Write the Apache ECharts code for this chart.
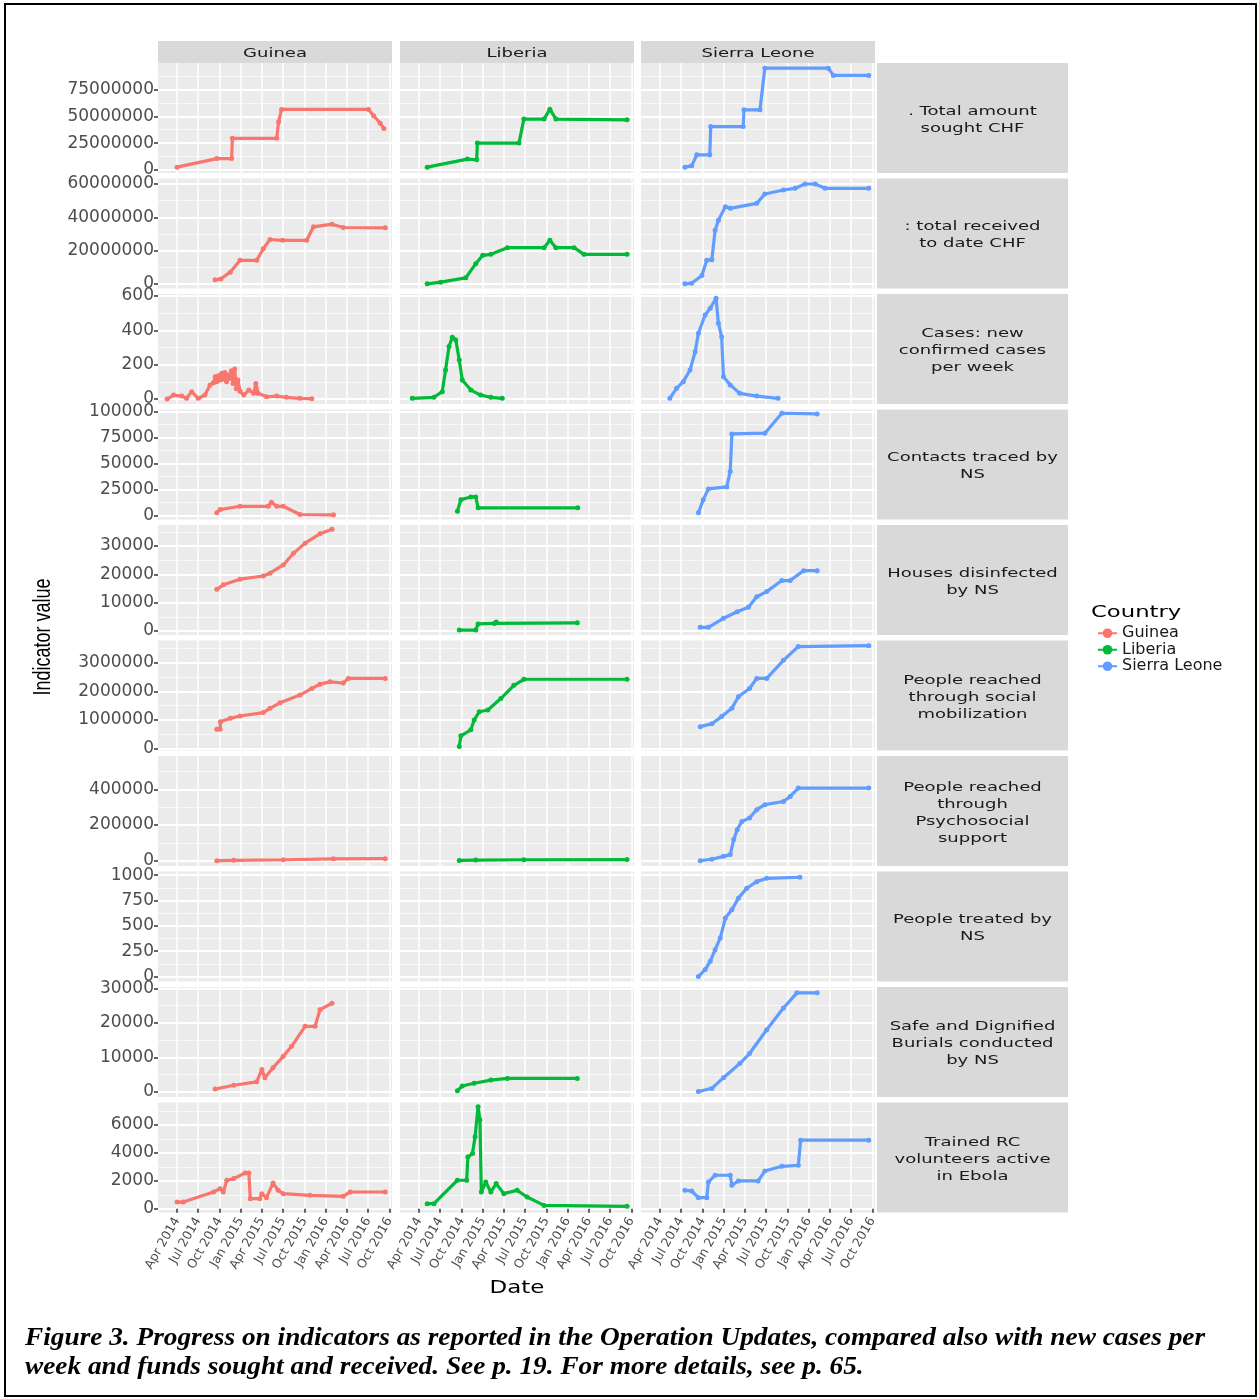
<!DOCTYPE html>
<html>
<head>
<meta charset="utf-8">
<script src="https://cdn.jsdelivr.net/npm/echarts@6/dist/echarts.min.js"></script>
<style>
  html, body { margin: 0; padding: 0; background: #fff; }
  #chart { width: 1259px; height: 1399px; }
</style>
</head>
<body>
<div id="chart"></div>
<script>
const countries = ['Guinea', 'Liberia', 'Sierra Leone'];
const countryColors = ['#F8766D', '#00BA38', '#619CFF'];

const indicators = [
  '. Total amount\nsought CHF',
  ': total received\nto date CHF',
  'Cases: new\nconfirmed cases\nper week',
  'Contacts traced by\nNS',
  'Houses disinfected\nby NS',
  'People reached\nthrough social\nmobilization',
  'People reached\nthrough\nPsychosocial\nsupport',
  'People treated by\nNS',
  'Safe and Dignified\nBurials conducted\nby NS',
  'Trained RC\nvolunteers active\nin Ebola'
];

const xTickDates = ['2014-04-01', '2014-07-01', '2014-10-01', '2015-01-01', '2015-04-01', '2015-07-01',
  '2015-10-01', '2016-01-01', '2016-04-01', '2016-07-01', '2016-10-01'];
const monthNames = ['Jan', 'Feb', 'Mar', 'Apr', 'May', 'Jun', 'Jul', 'Aug', 'Sep', 'Oct', 'Nov', 'Dec'];
const xMin = '2014-01-09';
const xMax = '2016-10-12';

const yMins = [-3000000, -2700000, -29, -3800, -1400, -60000, -30000, -49, -1500, -270];
const yMaxs = [100000000, 63300000, 611, 102000, 37400, 3770000, 587000, 1037, 30400, 7610];
const yTicks = [
  [0, 25000000, 50000000, 75000000],
  [0, 20000000, 40000000, 60000000],
  [0, 200, 400, 600],
  [0, 25000, 50000, 75000, 100000],
  [0, 10000, 20000, 30000],
  [0, 1000000, 2000000, 3000000],
  [0, 200000, 400000],
  [0, 250, 500, 750, 1000],
  [0, 10000, 20000, 30000],
  [0, 2000, 4000, 6000]
];
const yMinorTicks = [
  [12500000, 37500000, 62500000, 87500000],
  [10000000, 30000000, 50000000],
  [100, 300, 500],
  [12500, 37500, 62500, 87500],
  [5000, 15000, 25000, 35000],
  [500000, 1500000, 2500000, 3500000],
  [100000, 300000, 500000],
  [125, 375, 625, 875],
  [5000, 15000, 25000],
  [1000, 3000, 5000, 7000]
];

// Funds sought
const soughtGuinea = [['2014-04-01', 2500000], ['2014-09-19', 10500000], ['2014-11-22', 10500000],
  ['2014-11-25', 29500000], ['2015-06-04', 29500000], ['2015-06-12', 45000000], ['2015-06-25', 56500000],
  ['2016-07-03', 56500000], ['2016-07-25', 50600000], ['2016-08-22', 43700000], ['2016-09-07', 38700000]];
const soughtLiberia = [['2014-05-06', 2500000], ['2014-10-26', 10000000], ['2014-12-05', 9400000],
  ['2014-12-08', 25000000], ['2015-06-05', 25000000], ['2015-06-26', 47500000], ['2015-09-21', 47500000],
  ['2015-10-16', 56800000], ['2015-11-11', 47500000], ['2016-09-12', 46800000]];
const soughtSierra = [['2014-07-17', 2500000], ['2014-08-15', 3700000], ['2014-09-06', 14000000],
  ['2014-11-01', 14000000], ['2014-11-05', 40500000], ['2015-03-25', 40500000], ['2015-03-28', 56200000],
  ['2015-06-05', 56200000], ['2015-06-26', 95200000], ['2016-03-25', 95200000], ['2016-04-16', 88400000],
  ['2016-09-15', 88400000]];

// Funds received
const receivedGuinea = [['2014-09-12', 2500000], ['2014-10-06', 3000000], ['2014-11-16', 7100000],
  ['2014-12-28', 14200000], ['2015-03-10', 14200000], ['2015-04-07', 21200000], ['2015-05-06', 26700000],
  ['2015-06-29', 26200000], ['2015-10-11', 26200000], ['2015-11-09', 34300000], ['2016-01-28', 35900000],
  ['2016-03-16', 33900000], ['2016-09-13', 33700000]];
const receivedLiberia = [['2014-05-06', 100000], ['2014-07-03', 1100000], ['2014-10-19', 3700000],
  ['2014-12-01', 12200000], ['2014-12-31', 17200000], ['2015-02-04', 17800000], ['2015-04-16', 21800000],
  ['2015-09-21', 21800000], ['2015-10-16', 26200000], ['2015-11-11', 21800000], ['2016-01-28', 21800000],
  ['2016-03-11', 17800000], ['2016-09-12', 17800000]];
const receivedSierra = [['2014-07-17', 100000], ['2014-08-15', 500000], ['2014-09-28', 5100000],
  ['2014-10-19', 14200000], ['2014-11-10', 14600000], ['2014-11-24', 32300000], ['2014-12-08', 38300000],
  ['2015-01-07', 46300000], ['2015-01-28', 45400000], ['2015-05-22', 48400000], ['2015-06-26', 54000000],
  ['2015-09-14', 56400000], ['2015-11-03', 57400000], ['2015-12-16', 60000000], ['2016-01-28', 60000000],
  ['2016-03-11', 57400000], ['2016-09-15', 57400000]];

// New confirmed cases per week
const casesGuinea = [['2014-02-17', 0], ['2014-03-17', 23], ['2014-04-21', 17], ['2014-05-12', 4],
  ['2014-06-03', 43], ['2014-07-01', 4], ['2014-07-30', 23], ['2014-08-21', 82], ['2014-09-05', 95],
  ['2014-09-12', 130], ['2014-09-19', 100], ['2014-09-26', 135], ['2014-10-03', 110], ['2014-10-10', 150],
  ['2014-10-17', 115], ['2014-10-24', 155], ['2014-10-31', 100], ['2014-11-07', 140], ['2014-11-14', 120],
  ['2014-11-21', 165], ['2014-11-28', 90], ['2014-12-05', 175], ['2014-12-12', 60], ['2014-12-19', 110],
  ['2014-12-28', 45], ['2015-01-13', 23], ['2015-02-04', 52], ['2015-02-25', 33], ['2015-03-06', 91],
  ['2015-03-16', 33], ['2015-04-21', 13], ['2015-06-04', 17], ['2015-07-16', 10], ['2015-09-12', 4],
  ['2015-11-02', 2]];
const casesLiberia = [['2014-03-03', 4], ['2014-06-04', 10], ['2014-07-10', 43], ['2014-07-24', 169],
  ['2014-08-08', 305], ['2014-08-22', 359], ['2014-09-06', 344], ['2014-09-21', 227], ['2014-10-04', 111],
  ['2014-11-10', 52], ['2014-12-22', 23], ['2015-02-04', 10], ['2015-03-25', 4]];
const casesSierra = [['2014-05-13', 4], ['2014-06-11', 62], ['2014-07-10', 101], ['2014-08-08', 169],
  ['2014-08-30', 275], ['2014-09-13', 383], ['2014-10-12', 489], ['2014-11-03', 528], ['2014-11-28', 586],
  ['2014-12-08', 441], ['2014-12-22', 363], ['2014-12-30', 130], ['2015-01-28', 82], ['2015-03-10', 33],
  ['2015-05-22', 17], ['2015-08-22', 4]];

// Contacts traced
const contactsGuinea = [['2014-09-19', 2600], ['2014-10-03', 5700], ['2014-12-28', 8900], ['2015-04-28', 8900],
  ['2015-05-12', 12700], ['2015-06-04', 8900], ['2015-07-02', 8900], ['2015-09-12', 1000], ['2016-02-03', 700]];
const contactsLiberia = [['2014-09-13', 4100], ['2014-09-28', 15300], ['2014-11-10', 17900], ['2014-12-01', 17900],
  ['2014-12-11', 7400], ['2016-02-13', 7400]];
const contactsSierra = [['2014-09-13', 2600], ['2014-10-04', 15300], ['2014-10-26', 25600], ['2015-01-13', 27500],
  ['2015-01-28', 42400], ['2015-02-04', 78500], ['2015-06-26', 79200], ['2015-09-07', 98400], ['2016-02-06', 97700]];

// Houses disinfected
const housesGuinea = [['2014-09-19', 14700], ['2014-10-17', 16300], ['2014-12-28', 18300], ['2015-04-07', 19400],
  ['2015-05-06', 20400], ['2015-07-02', 23300], ['2015-08-15', 27400], ['2015-10-04', 31000],
  ['2015-12-07', 34300], ['2016-01-28', 35900]];
const housesLiberia = [['2014-09-21', 350], ['2014-12-01', 350], ['2014-12-11', 2500], ['2015-02-19', 2700],
  ['2015-02-27', 3200], ['2016-02-11', 2900]];
const housesSierra = [['2014-09-21', 1300], ['2014-10-26', 1300], ['2014-12-30', 4500], ['2015-02-27', 6800],
  ['2015-04-16', 8400], ['2015-05-22', 12100], ['2015-07-04', 13900], ['2015-09-07', 17800],
  ['2015-10-13', 17800], ['2015-12-10', 21300], ['2016-02-06', 21300]];

// Social mobilization
const socialGuinea = [['2014-09-19', 680000], ['2014-10-03', 680000], ['2014-10-05', 940000],
  ['2014-11-16', 1060000], ['2014-12-28', 1140000], ['2015-04-07', 1260000], ['2015-05-06', 1410000],
  ['2015-06-18', 1600000], ['2015-09-12', 1870000], ['2015-11-02', 2100000], ['2015-12-07', 2250000],
  ['2016-01-19', 2330000], ['2016-03-16', 2290000], ['2016-04-07', 2450000], ['2016-09-13', 2450000]];
const socialLiberia = [['2014-09-21', 80000], ['2014-09-28', 450000], ['2014-11-10', 660000],
  ['2014-11-24', 1000000], ['2014-12-16', 1290000], ['2015-01-22', 1350000], ['2015-03-19', 1750000],
  ['2015-05-14', 2210000], ['2015-06-26', 2420000], ['2016-09-12', 2420000]];
const socialSierra = [['2014-09-21', 770000], ['2014-11-10', 870000], ['2014-12-22', 1120000],
  ['2015-02-04', 1410000], ['2015-03-04', 1810000], ['2015-04-21', 2100000], ['2015-05-22', 2450000],
  ['2015-07-04', 2450000], ['2015-09-14', 3080000], ['2015-11-17', 3560000], ['2016-09-15', 3590000]];

// Psychosocial support
const psychoGuinea = [['2014-09-19', 0], ['2014-12-01', 2000], ['2015-07-02', 5000], ['2016-02-03', 10000],
  ['2016-09-13', 11000]];
const psychoLiberia = [['2014-09-21', 1000], ['2014-12-01', 3000], ['2015-06-26', 5000], ['2016-09-12', 6000]];
const psychoSierra = [['2014-09-21', 0], ['2014-11-10', 8000], ['2014-12-30', 24000], ['2015-01-28', 34000],
  ['2015-02-12', 118000], ['2015-02-27', 174000], ['2015-03-19', 220000], ['2015-04-21', 239000],
  ['2015-05-22', 286000], ['2015-06-26', 314000], ['2015-09-14', 332000], ['2015-10-13', 360000],
  ['2015-11-17', 407000], ['2016-09-15', 407000]];

// People treated
const treatedGuinea = [];
const treatedLiberia = [];
const treatedSierra = [['2014-09-13', 0], ['2014-10-12', 69], ['2014-11-03', 150], ['2014-11-24', 265],
  ['2014-12-16', 380], ['2015-01-07', 577], ['2015-02-04', 659], ['2015-03-04', 774], ['2015-04-09', 872],
  ['2015-05-22', 937], ['2015-07-04', 970], ['2015-11-24', 980]];

// Safe and dignified burials
const burialsGuinea = [['2014-09-12', 800], ['2014-12-01', 1900], ['2015-03-10', 2900], ['2015-04-01', 6500],
  ['2015-04-14', 4100], ['2015-05-19', 7000], ['2015-07-02', 10300], ['2015-08-07', 13200],
  ['2015-10-04', 19000], ['2015-11-16', 19000], ['2015-12-07', 23800], ['2016-01-28', 25700]];
const burialsLiberia = [['2014-09-13', 300], ['2014-10-04', 1700], ['2014-11-24', 2500], ['2015-02-04', 3400],
  ['2015-04-16', 3900], ['2016-02-11', 3900]];
const burialsSierra = [['2014-09-13', 100], ['2014-11-10', 1000], ['2014-12-30', 4100], ['2015-03-10', 8200],
  ['2015-04-21', 11100], ['2015-07-04', 18000], ['2015-09-14', 24300], ['2015-11-11', 28700],
  ['2016-02-06', 28700]];

// Trained volunteers
const volunteersGuinea = [['2014-04-01', 480], ['2014-04-28', 480], ['2014-09-05', 1200], ['2014-10-03', 1440],
  ['2014-10-17', 1200], ['2014-11-01', 2040], ['2014-12-01', 2160], ['2015-01-19', 2560], ['2015-02-04', 2560],
  ['2015-02-10', 720], ['2015-03-23', 720], ['2015-04-01', 1080], ['2015-04-21', 790], ['2015-05-19', 1840],
  ['2015-06-10', 1320], ['2015-07-02', 1080], ['2015-10-25', 960], ['2016-03-16', 890], ['2016-04-15', 1200],
  ['2016-09-13', 1200]];
const volunteersLiberia = [['2014-05-06', 360], ['2014-06-04', 360], ['2014-09-13', 2040], ['2014-10-23', 2040],
  ['2014-10-28', 3710], ['2014-11-17', 3960], ['2014-11-28', 5150], ['2014-12-11', 7310], ['2014-12-19', 6350],
  ['2014-12-25', 1200], ['2015-01-13', 1910], ['2015-02-04', 1200], ['2015-02-27', 1800], ['2015-04-01', 1080],
  ['2015-05-28', 1320], ['2015-07-10', 840], ['2015-09-21', 240], ['2016-09-12', 170]];
const volunteersSierra = [['2014-07-17', 1320], ['2014-08-15', 1270], ['2014-09-13', 790], ['2014-10-19', 790],
  ['2014-10-26', 1910], ['2014-11-24', 2400], ['2015-01-28', 2400], ['2015-02-04', 1680], ['2015-03-04', 1990],
  ['2015-05-28', 1990], ['2015-06-26', 2700], ['2015-09-07', 3040], ['2015-11-17', 3110], ['2015-11-27', 4910],
  ['2016-09-15', 4910]];

const panelData = [
  [soughtGuinea, soughtLiberia, soughtSierra],
  [receivedGuinea, receivedLiberia, receivedSierra],
  [casesGuinea, casesLiberia, casesSierra],
  [contactsGuinea, contactsLiberia, contactsSierra],
  [housesGuinea, housesLiberia, housesSierra],
  [socialGuinea, socialLiberia, socialSierra],
  [psychoGuinea, psychoLiberia, psychoSierra],
  [treatedGuinea, treatedLiberia, treatedSierra],
  [burialsGuinea, burialsLiberia, burialsSierra],
  [volunteersGuinea, volunteersLiberia, volunteersSierra]
];

// layout
const colLeft = [158, 400, 641];
const colWidth = 234;
const rowTop0 = 63;
const rowStep = 115.5;
const rowHeight = 110;
const stripLeft = 877;
const stripWidth = 191;

// dates are handled as UTC milliseconds on a value axis
const toTime = (d) => Date.parse(d + 'T00:00:00Z');
const xTickTimes = xTickDates.map(toTime);

const grids = [];
const xAxes = [];
const yAxes = [];
const series = [];
const graphics = [];

indicators.forEach((label, r) => {
  const top = rowTop0 + r * rowStep;
  countries.forEach((country, c) => {
    const i = r * 3 + c;
    grids.push({
      left: colLeft[c], top, width: colWidth, height: rowHeight,
      show: true, backgroundColor: '#ebebeb', borderWidth: 0,
      containLabel: false, outerBoundsMode: 'none'
    });
    const isBottom = r === indicators.length - 1;
    xAxes.push({
      type: 'value', gridIndex: i, min: toTime(xMin), max: toTime(xMax),
      axisLine: { show: false },
      axisTick: { show: isBottom, customValues: xTickTimes, length: 4, lineStyle: { color: '#333', width: 1.5 } },
      axisLabel: {
        show: isBottom, customValues: xTickTimes, rotate: 60, margin: 6,
        fontSize: 12.5, fontFamily: 'DejaVu Sans', color: '#4d4d4d',
        formatter(value) {
          const d = new Date(value);
          return monthNames[d.getUTCMonth()] + ' ' + d.getUTCFullYear();
        }
      },
      splitLine: { show: true, lineStyle: { color: '#ffffff', width: 1.5 } }
    });
    const isLeft = c === 0;
    yAxes.push({
      type: 'value', gridIndex: i, min: yMins[r], max: yMaxs[r],
      axisLine: { show: false },
      axisTick: { show: isLeft, customValues: yTicks[r], length: 4, lineStyle: { color: '#333', width: 1.5 } },
      axisLabel: {
        show: isLeft, customValues: yTicks[r], margin: 4,
        fontSize: 17, fontFamily: 'DejaVu Sans', color: '#4d4d4d',
        formatter: (v) => String(v)
      },
      splitLine: { show: true, lineStyle: { color: '#ffffff', width: 2 } }
    });
    yAxes.push({
      type: 'value', gridIndex: i, min: yMins[r], max: yMaxs[r], position: 'left',
      axisLine: { show: false },
      axisTick: { show: false, customValues: yMinorTicks[r] },
      axisLabel: { show: false, customValues: yMinorTicks[r] },
      splitLine: { show: true, lineStyle: { color: '#f8f8f8', width: 1 } }
    });
    const data = panelData[r][c];
    if (data.length) {
      series.push({
        type: 'line', name: country, xAxisIndex: i, yAxisIndex: i * 2,
        data: data.map((p) => [toTime(p[0]), p[1]]),
        color: countryColors[c],
        lineStyle: { width: 3.2 },
        symbol: 'circle', symbolSize: 5, showSymbol: true,
        z: 3
      });
    }
  });

  // right-hand facet strip
  graphics.push({
    type: 'rect', shape: { x: stripLeft, y: top, width: stripWidth, height: rowHeight },
    style: { fill: '#d9d9d9' }, silent: true
  });
  graphics.push({
    type: 'text', x: stripLeft + stripWidth / 2, y: top + rowHeight / 2 + 2, scaleX: 1.5,
    style: {
      text: label, x: 0, y: 0, fill: '#1a1a1a', font: '12px "DejaVu Sans"',
      textAlign: 'center', textVerticalAlign: 'middle', lineHeight: 17
    }, silent: true
  });
});

// top facet strips
countries.forEach((country, c) => {
  graphics.push({
    type: 'rect', shape: { x: colLeft[c], y: 41, width: colWidth, height: 22 },
    style: { fill: '#d9d9d9' }, silent: true
  });
  graphics.push({
    type: 'text', x: colLeft[c] + colWidth / 2, y: 53.5, scaleX: 1.5,
    style: {
      text: country, x: 0, y: 0, fill: '#1a1a1a', font: '12px "DejaVu Sans"',
      textAlign: 'center', textVerticalAlign: 'middle'
    }, silent: true
  });
});

// axis titles, legend title, caption, frame
graphics.push({
  type: 'text', x: 43, y: 637, rotation: Math.PI / 2, scaleY: 1.36,
  style: {
    text: 'Indicator value', x: 0, y: 0, fill: '#000', font: '18px "Liberation Sans"',
    textAlign: 'center', textVerticalAlign: 'middle'
  }, silent: true
});
graphics.push({
  type: 'text', x: 517, y: 1288.5, scaleX: 1.35,
  style: {
    text: 'Date', x: 0, y: 0, fill: '#000', font: '17px "DejaVu Sans"',
    textAlign: 'center', textVerticalAlign: 'middle'
  }, silent: true
});
graphics.push({
  type: 'text', x: 1091, y: 613, scaleX: 1.42,
  style: {
    text: 'Country', x: 0, y: 0, fill: '#000', font: '16px "DejaVu Sans"',
    textAlign: 'left', textVerticalAlign: 'middle'
  }, silent: true
});
graphics.push({
  type: 'text', x: 25, y: 1338.5, scaleX: 1.05,
  style: {
    text: 'Figure 3. Progress on indicators as reported in the Operation Updates, compared also with new cases per',
    x: 0, y: 0, fill: '#000', font: 'italic bold 26px "Liberation Serif"',
    textAlign: 'left', textVerticalAlign: 'middle'
  }, silent: true
});
graphics.push({
  type: 'text', x: 25, y: 1367.5, scaleX: 1.05,
  style: {
    text: 'week and funds sought and received. See p. 19. For more details, see p. 65.',
    x: 0, y: 0, fill: '#000', font: 'italic bold 26px "Liberation Serif"',
    textAlign: 'left', textVerticalAlign: 'middle'
  }, silent: true
});
graphics.push({
  type: 'rect', shape: { x: 5, y: 4, width: 1251, height: 1392 },
  style: { fill: 'none', stroke: '#000', lineWidth: 2 }, silent: true
});

const chart = echarts.init(document.getElementById('chart'));
chart.setOption({
  animation: false,
  backgroundColor: '#ffffff',
  grid: grids,
  xAxis: xAxes,
  yAxis: yAxes,
  series,
  legend: {
    data: countries,
    orient: 'vertical',
    left: 1092,
    top: 620,
    itemWidth: 19,
    itemHeight: 12,
    itemGap: 0,
    textStyle: { fontSize: 16, lineHeight: 16.5, fontFamily: 'DejaVu Sans', color: '#1a1a1a' }
  },
  graphic: graphics
});
</script>
</body>
</html>
